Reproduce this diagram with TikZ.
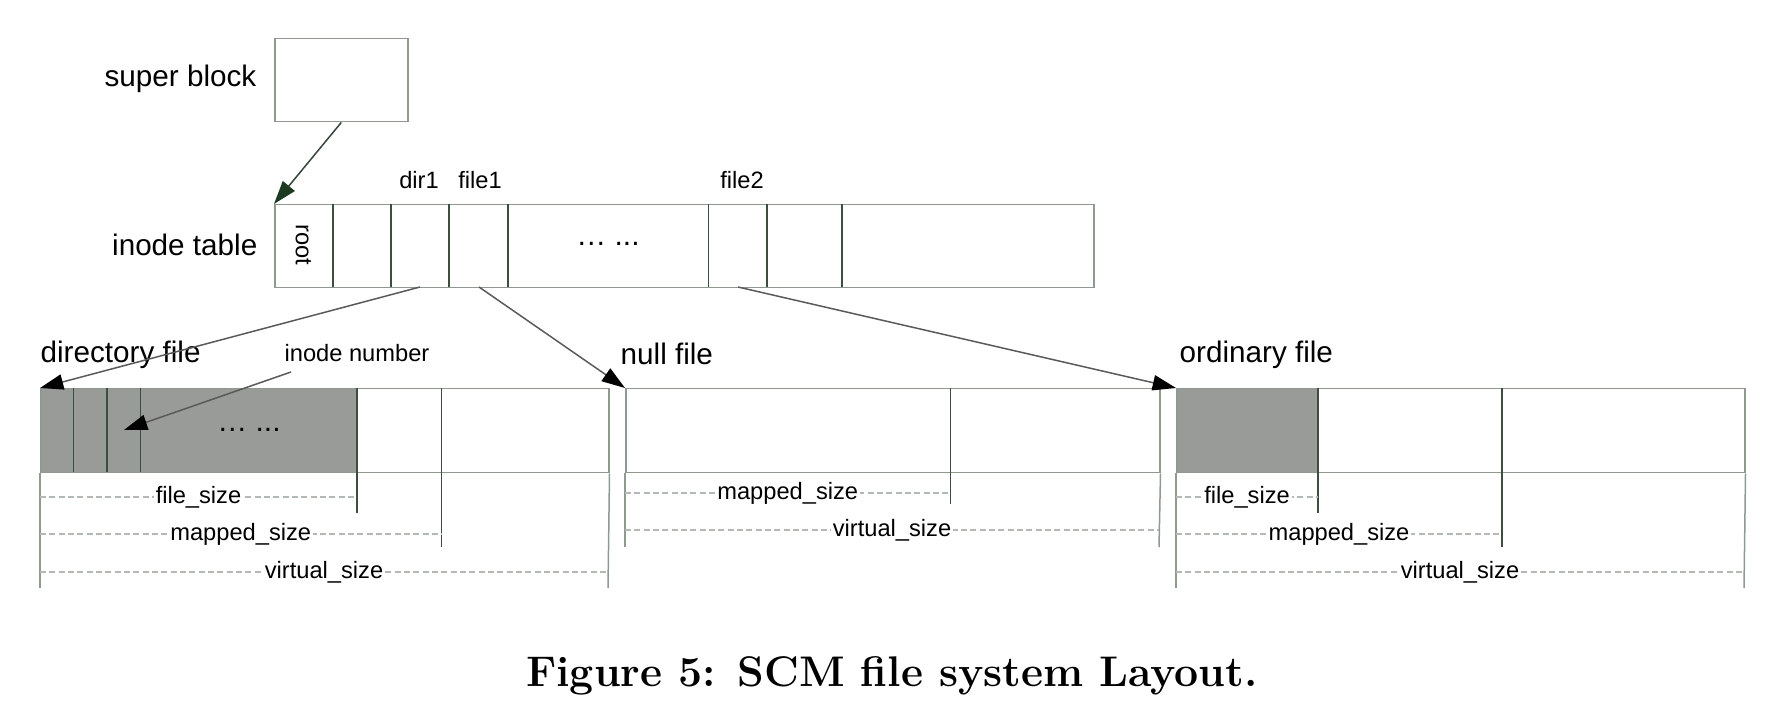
\documentclass[tikz,border=0pt]{standalone}
\usepackage{fontspec}
\newfontfamily\lab{Liberation Sans}
\usetikzlibrary{arrows.meta}
\definecolor{bordc}{HTML}{8E998F}
\definecolor{divc}{HTML}{3C4F3F}
\definecolor{greyfill}{HTML}{999B98}
\definecolor{dashc}{HTML}{B3BAB3}
\definecolor{arrc}{HTML}{5A5A5A}
\definecolor{tipgreen}{HTML}{1C3A22}
\tikzset{
  box/.style={draw=bordc, line width=0.45pt, rectangle, inner sep=0pt, anchor=north west},
  divline/.style={draw=divc, line width=0.4pt},
  bordline/.style={draw=bordc, line width=0.45pt},
  dim/.style={draw=dashc, line width=0.45pt, dash pattern=on 1.8pt off 1pt},
  dimlab/.style={fill=white, inner xsep=0.6pt, inner ysep=0.5pt, font=\lab\fontsize{7.1}{8}\selectfont},
  biglab/.style={inner sep=0pt, font=\lab\fontsize{8.9}{10}\selectfont},
  smalllab/.style={inner sep=0pt, font=\lab\fontsize{7.1}{8}\selectfont},
  dotslab/.style={inner sep=0pt, font=\lab\fontsize{9}{10}\selectfont},
  ptr/.style={draw=arrc, line width=0.45pt, -{Triangle[length=7pt,width=4.6pt,black]}}
}
\begin{document}
\begin{tikzpicture}[x=0.3pt,y=-0.3pt]
\useasboundingbox (0,0) rectangle (1780,722);

% ---------- super block ----------
\node[box, minimum width=133*0.3pt, minimum height=83*0.3pt] (sb) at (274,38) {};
\node[biglab, anchor=east] (sblab) at (257,79) {super block};

% ---------- inode table ----------
\node[box, minimum width=819*0.3pt, minimum height=83*0.3pt] (it) at (274,204) {};
\node[biglab, anchor=east] (itlab) at (258,245) {inode table};
\foreach \x in {333,391,449,508,708.5,767,842}{
  \draw[divline] (\x,204) -- (\x,287);
}
\node[smalllab, rotate=-90] (root) at (303.5,245) {root};
\node[dotslab] (itdots) at (608,244) {… ...};
\node[smalllab] (dir1) at (419,180) {dir1};
\node[smalllab] (file1) at (480,180) {file1};
\node[smalllab] (file2) at (742,180) {file2};
\coordinate (dir1b) at (420,287);
\coordinate (file1b) at (479,287);
\coordinate (file2b) at (738,287);

\draw[draw=tipgreen!60!arrc, line width=0.45pt, -{Triangle[length=7pt,width=4.6pt,tipgreen]}] (sb.south) -- (it.north west);

% ---------- directory file ----------
\fill[greyfill] (40,388) rectangle (357,472);
\node[box, minimum width=568*0.3pt, minimum height=84*0.3pt] (dir) at (40,388) {};
\node[biglab, anchor=west] (dirlab) at (40,355) {directory file};
\foreach \x in {73.5,107,140.5}{
  \draw[divline] (\x,388) -- (\x,472);
}
\draw[divline] (357,388) -- (357,513);
\draw[divline] (441.5,388) -- (441.5,547);
\draw[bordline] (dir.south west) -- (40,588);
\draw[bordline] (dir.south east) -- (608,588);
\node[dotslab, text=black] (dirdots) at (249,430) {… ...};
\coordinate (inocell) at (124,430);
\node[smalllab] (inolab) at (357,353) {inode number};
\coordinate (inostart) at (291,372);
\draw[ptr] (inostart) -- (inocell);
\draw[dim] (40,497) -- node[dimlab] (dfs) {file\_size} (357,497);
\draw[dim] (40,534) -- node[dimlab] (dms) {mapped\_size} (441.5,534);
\draw[dim] (40,572) -- node[dimlab] (dvs) {virtual\_size} (608,572);

% ---------- null file ----------
\node[box, minimum width=534*0.3pt, minimum height=84*0.3pt] (null) at (625,388) {};
\node[biglab, anchor=west] (nulllab) at (620,354) {null file};
\draw[divline] (950.5,388) -- (950.5,504);
\draw[bordline] (null.south west) -- (625,547);
\draw[bordline] (null.south east) -- (1159,547);
\draw[dim] (625,493) -- node[dimlab] (nms) {mapped\_size} (950.5,493);
\draw[dim] (625,530) -- node[dimlab] (nvs) {virtual\_size} (1159,530);

% ---------- ordinary file ----------
\fill[greyfill] (1176,388) rectangle (1318,472);
\node[box, minimum width=568*0.3pt, minimum height=84*0.3pt] (ord) at (1176,388) {};
\node[biglab, anchor=west] (ordlab) at (1179,355) {ordinary file};
\draw[divline] (1318,388) -- (1318,513);
\draw[divline] (1502,388) -- (1502,547);
\draw[bordline] (ord.south west) -- (1176,588);
\draw[bordline] (ord.south east) -- (1744,588);
\draw[dim] (1176,497) -- node[dimlab] (ofs) {file\_size} (1318,497);
\draw[dim] (1176,534) -- node[dimlab] (oms) {mapped\_size} (1502,534);
\draw[dim] (1176,572) -- node[dimlab] (ovs) {virtual\_size} (1744,572);

% ---------- pointers from inode table ----------
\draw[ptr] (dir1b) -- (dir.north west);
\draw[ptr] (file1b) -- (null.north west);
\draw[ptr] (file2b) -- (ord.north west);

% ---------- caption ----------
\node[inner sep=0pt, font=\bfseries\fontsize{12.85}{15}\selectfont] (cap) at (892,676) {Figure 5: SCM file system Layout.};
\end{tikzpicture}
\end{document}
